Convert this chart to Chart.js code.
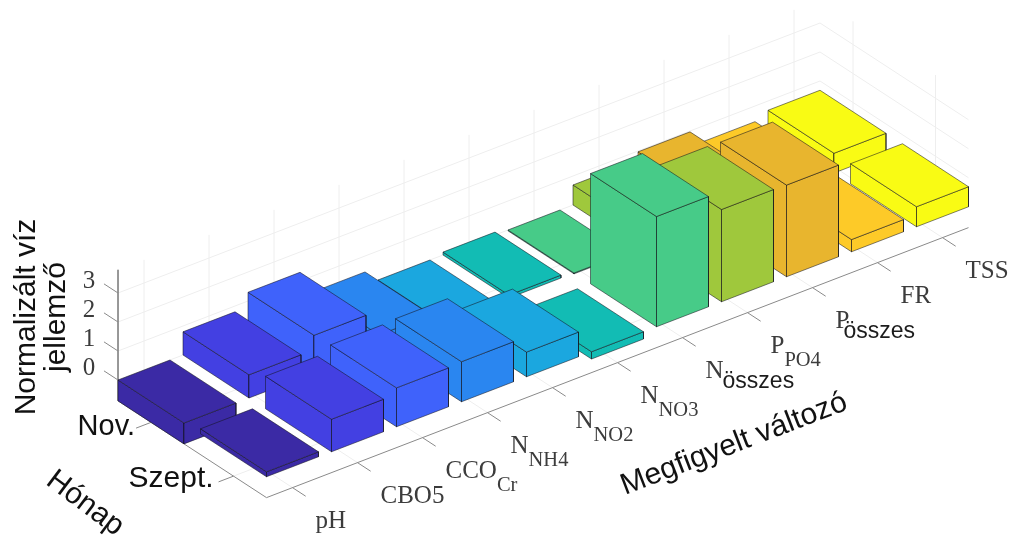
<!DOCTYPE html>
<html>
<head>
<meta charset="utf-8">
<title>Normalizált víz jellemző</title>
<script src="https://cdn.jsdelivr.net/npm/chart.js@4"></script>
<style>
	html, body { margin: 0; padding: 0; background: #fff; }
	#wrap { width: 1013px; height: 536px; }
</style>
</head>
<body>
<div id="wrap"><canvas id="myChart" width="1013" height="536"></canvas></div>
<script>
// Chart data
const categories = ["pH", "CBO5", "CCO", "N", "N", "N", "N", "P", "P", "FR", "TSS"];
const subLabels = ["", "", "Cr", "NH4", "NO2", "NO3", "összes", "PO4", "összes", "", ""];
const months = ["Nov.", "Szept."];
const novValues = [-0.72, 0.8, 1.3, 0.45, -0.05, 0.1, -0.03, 0.69, 0.97, 0.46, 0.68];
const septValues = [0.17, 1.12, 1.34, 1.38, 0.85, -0.25, 3.8, 3.18, 3.16, 0.42, 0.69];
const zTicks = [0, 1, 2, 3];
const barColors = ["#3b2aa5", "#4340e2", "#3f62fb", "#2a86f0", "#1ba7df", "#12bcb4",
	"#47cb88", "#9fc83c", "#e8b52e", "#fdca28", "#f9fb14"];

// 3D axis limits and view
const zFloor = -0.72;
const zTop = 3.8;
const catEnd = categories.length - 0.2;
const rowEnd = months.length - 0.2;
const barSize = 0.8;
const view = { x0: 118, y0: 380, catX: 65, catY: -25, rowX: 82.5, rowY: 53.75, zY: -29 };

// Turn (category, row, z) into the flat coordinates of the chart scales
function project(cat, row, z) {
	return {
		x: view.x0 + cat * view.catX + row * view.rowX,
		y: view.y0 + cat * view.catY + row * view.rowY + z * view.zY,
	};
}

const datasets = [];

function addLine(points, color, width) {
	datasets.push({
		data: points,
		showLine: true,
		borderColor: color,
		borderWidth: width,
		pointRadius: 0,
		clip: false,
	});
}

function addFace(points, color) {
	datasets.push({
		data: [...points, points[0]],
		showLine: true,
		borderColor: "rgba(20,20,30,0.6)",
		borderWidth: 0.9,
		faceColor: color,
		pointRadius: 0,
		clip: false,
	});
}

// Grid on the walls and the floor
const gridColor = "#eeeeee";
categories.forEach((c, i) => {
	const cat = i + 0.4;
	addLine([project(cat, 0, zFloor), project(cat, 0, zTop)], gridColor, 1);
	addLine([project(cat, 0, zFloor), project(cat, rowEnd, zFloor)], gridColor, 1);
});
months.forEach((m, r) => {
	const row = r + 0.4;
	addLine([project(catEnd, row, zFloor), project(catEnd, row, zTop)], gridColor, 1);
	addLine([project(0, row, zFloor), project(catEnd, row, zFloor)], gridColor, 1);
});
zTicks.forEach((z) => {
	addLine([project(0, 0, z), project(catEnd, 0, z), project(catEnd, rowEnd, z)], gridColor, 1);
});

// Axis lines and tick marks
const axisColor = "#8a8a8a";
addLine([project(0, 0, zTop), project(0, 0, zFloor), project(0, rowEnd, zFloor), project(catEnd, rowEnd, zFloor)], axisColor, 1);
zTicks.forEach((z) => {
	addLine([project(0, 0, z), project(0, -0.17, z)], axisColor, 1);
});
categories.forEach((c, i) => {
	addLine([project(i + 0.4, rowEnd, zFloor), project(i + 0.4, rowEnd + 0.16, zFloor)], axisColor, 1);
});
months.forEach((m, r) => {
	addLine([project(0, r + 0.4, zFloor), project(-0.23, r + 0.4, zFloor)], axisColor, 1);
});

// Bars, back to front. Negative values hang below z = 0
function addBar(i, row, value) {
	const low = Math.min(0, value);
	const high = Math.max(0, value);
	const c1 = i + barSize;
	const r1 = row + barSize;
	addFace([project(i, row, high), project(i, r1, high), project(i, r1, low), project(i, row, low)], barColors[i]);
	addFace([project(i, r1, high), project(c1, r1, high), project(c1, r1, low), project(i, r1, low)], barColors[i]);
	addFace([project(i, row, high), project(c1, row, high), project(c1, r1, high), project(i, r1, high)], barColors[i]);
}

[novValues, septValues].forEach((values, row) => {
	for (let i = values.length - 1; i >= 0; i--) {
		addBar(i, row, values[i]);
	}
});

// Later datasets go on top
datasets.forEach((d, i) => {
	d.order = datasets.length - i;
});

// Fill the closed faces before their outline is drawn
const faceFill = {
	id: "faceFill",
	beforeDatasetDraw(chart, args) {
		const color = chart.data.datasets[args.index].faceColor;
		if (!color) return;
		const ctx = chart.ctx;
		ctx.save();
		ctx.beginPath();
		args.meta.data.forEach((p, k) => {
			if (k === 0) ctx.moveTo(p.x, p.y);
			else ctx.lineTo(p.x, p.y);
		});
		ctx.closePath();
		ctx.fillStyle = color;
		ctx.fill();
		ctx.restore();
	},
};

function rotatedText(ctx, text, x, y, angle, font) {
	ctx.save();
	ctx.translate(x, y);
	ctx.rotate((angle * Math.PI) / 180);
	ctx.font = font;
	ctx.fillText(text, 0, 0);
	ctx.restore();
}

// Tick labels and axis titles
const axisText = {
	id: "axisText",
	afterDatasetsDraw(chart) {
		const ctx = chart.ctx;
		const sx = chart.scales.x;
		const sy = chart.scales.y;
		const serif = '"Liberation Serif", serif';
		const sans = '"Liberation Sans", Arial, sans-serif';
		ctx.save();
		ctx.textBaseline = "alphabetic";

		// Category labels with their subscripts
		ctx.textAlign = "left";
		categories.forEach((c, i) => {
			const p = project(i + 0.4, rowEnd, zFloor);
			const x = sx.getPixelForValue(p.x) + 23;
			const y = sy.getPixelForValue(p.y) + 40;
			ctx.fillStyle = "#3c3c3c";
			ctx.font = "25px " + serif;
			ctx.fillText(c, x, y);
			const sub = subLabels[i];
			if (!sub) return;
			const w = ctx.measureText(c).width;
			if (sub === "összes") {
				ctx.fillStyle = "#1c1c1c";
				ctx.font = "23px " + sans;
				ctx.fillText(sub, x + (c === "P" ? w - 6 : w - 1), y + 10);
			} else {
				ctx.font = "20.5px " + serif;
				ctx.fillText(sub, x + w, y + 13);
			}
		});

		// z ticks
		ctx.textAlign = "center";
		ctx.fillStyle = "#3c3c3c";
		ctx.font = "25px " + serif;
		zTicks.forEach((z) => {
			const p = project(0, 0, z);
			ctx.fillText(String(z), sx.getPixelForValue(p.x) - 29, sy.getPixelForValue(p.y) - 5);
		});

		// Month labels
		ctx.textAlign = "right";
		ctx.fillStyle = "#111";
		months.forEach((m, r) => {
			const p = project(-0.23, r + 0.4, zFloor);
			ctx.font = (r === 0 ? "29px " : "30px ") + sans;
			ctx.fillText(m, sx.getPixelForValue(p.x) - (r === 0 ? 1 : 5), sy.getPixelForValue(p.y) + (r === 0 ? 7 : 5));
		});

		// Axis titles
		ctx.textAlign = "center";
		const titleFont = "30px " + sans;
		rotatedText(ctx, "Normalizált víz", 35, 317, -90, titleFont);
		rotatedText(ctx, "jellemző", 65, 317, -90, titleFont);
		rotatedText(ctx, "Hónap", 80, 510, 37, titleFont);
		rotatedText(ctx, "Megfigyelt változó", 737, 452, -21, titleFont);
		ctx.restore();
	},
};

new Chart(document.getElementById("myChart"), {
	type: "scatter",
	data: { datasets },
	plugins: [faceFill, axisText],
	options: {
		responsive: false,
		animation: false,
		layout: { padding: 0 },
		plugins: { legend: { display: false }, tooltip: { enabled: false } },
		scales: {
			x: { type: "linear", display: false, min: 0, max: 1013 },
			y: { type: "linear", display: false, min: 0, max: 536, reverse: true },
		},
	},
});
</script>
</body>
</html>
